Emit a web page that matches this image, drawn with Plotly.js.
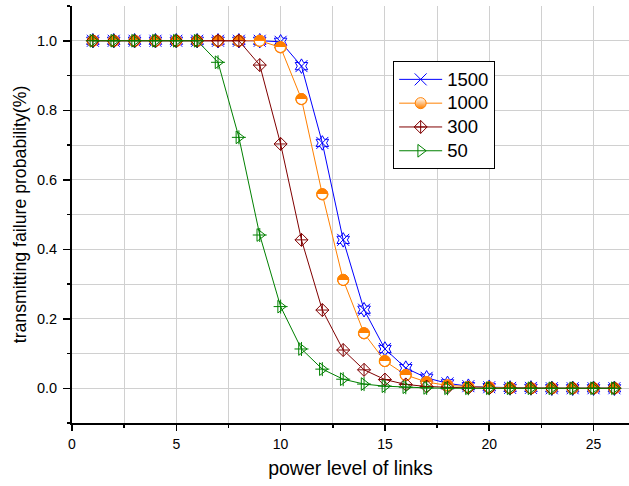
<!DOCTYPE html>
<html>
<head>
<meta charset="utf-8">
<script src="https://cdn.plot.ly/plotly-3.0.1.min.js"></script>
<style>html,body{margin:0;padding:0;background:#fff;}#chart{width:629px;height:486px;}</style>
</head>
<body>
<div id="chart"></div>
<script>
// Data
const powerLevels = [1,2,3,4,5,6,7,8,9,10,11,12,13,14,15,16,17,18,19,20,21,22,23,24,25,26];
const seriesNames = ["1500", "1000", "300", "50"];
const p1500 = [1,1,1,1,1,1,1,1,1,0.997,0.927,0.706,0.427,0.226,0.113,0.058,0.030,0.014,0.006,0.003,0.001,0.001,0,0,0,0];
const p1000 = [1,1,1,1,1,1,1,1,1,0.981,0.832,0.558,0.312,0.158,0.078,0.038,0.018,0.008,0.004,0.002,0.001,0,0,0,0,0];
const p300  = [1,1,1,1,1,1,1,1,0.930,0.703,0.427,0.225,0.110,0.053,0.025,0.011,0.005,0.002,0.001,0,0,0,0,0,0,0];
const p50   = [1,1,1,1,1,1,0.938,0.722,0.441,0.235,0.113,0.055,0.026,0.012,0.006,0.003,0.001,0,0,0,0,0,0,0,0,0];
const xTickVals = [0,5,10,15,20,25];
const yTickVals = [0,0.2,0.4,0.6,0.8,1.0];
const yTickText = ["0.0","0.2","0.4","0.6","0.8","1.0"];

const cBlue = "#0000FF", cOrange = "#FF8000", cRed = "#800000", cGreen = "#008000";
const FONT = "Liberation Sans, Arial, sans-serif";
const legName = s => '<span style="font-size:18.5px">' + s + '</span>';
const halfGlyph = powerLevels.map(() => "\u25D3");

const traces = [
  {x: powerLevels, y: p1500, name: legName(seriesNames[0]), mode: "lines+markers", legendgroup: "a",
   line: {color: cBlue, width: 1},
   marker: {symbol: "x-thin-open", size: 12, color: cBlue, line: {color: cBlue, width: 1}}},
  {x: powerLevels, y: p1500, showlegend: false, mode: "markers", legendgroup: "a", hoverinfo: "skip",
   marker: {symbol: "hexagram-open", size: 11, color: cBlue, line: {color: cBlue, width: 1}}},
  {x: powerLevels, y: p1000, name: legName(seriesNames[1]), mode: "lines+markers", legendgroup: "b",
   line: {color: cOrange, width: 1},
   marker: {symbol: "circle", size: 11, color: "#FFFFFF", line: {color: cOrange, width: 1},
            gradient: {type: "vertical", color: cOrange}}},
  {x: powerLevels, y: p1000, showlegend: false, mode: "markers", legendgroup: "b", hoverinfo: "skip",
   marker: {symbol: "circle", size: 11, color: "#FFFFFF", line: {color: cOrange, width: 1}}},
  {x: powerLevels, y: p1000, showlegend: false, mode: "text", legendgroup: "b", hoverinfo: "skip",
   text: halfGlyph, textposition: "middle center",
   textfont: {family: "DejaVu Sans", size: 15, color: cOrange}},
  {x: powerLevels, y: p300, name: legName(seriesNames[2]), mode: "lines+markers", legendgroup: "c",
   line: {color: cRed, width: 1},
   marker: {symbol: "diamond-cross-open", size: 10, color: cRed, line: {color: cRed, width: 1}}},
  {x: powerLevels, y: p50, name: legName(seriesNames[3]), mode: "lines+markers", legendgroup: "d",
   line: {color: cGreen, width: 1},
   marker: {symbol: "triangle-right-open", size: 11, color: cGreen, line: {color: cGreen, width: 1}}},
  {x: powerLevels, y: p50, showlegend: false, mode: "markers", legendgroup: "d", hoverinfo: "skip",
   marker: {symbol: "cross-thin-open", size: 10, color: cGreen, line: {color: cGreen, width: 1}}}
];

const xRange = [0, 26.70];
const yRange = [-0.1, 1.1];

const layout = {
  width: 629, height: 486,
  margin: {l: 72, r: 0, t: 6, b: 63, pad: 0},
  paper_bgcolor: "#fff", plot_bgcolor: "#fff",
  font: {family: FONT, size: 14, color: "#000"},
  showlegend: true,
  legend: {x: 0.5766, y: 0.867, xanchor: "left", yanchor: "top",
           bgcolor: "#fff", bordercolor: "#000", borderwidth: 1,
           font: {family: FONT, size: 16, color: "#000"},
           itemwidth: 43, tracegroupgap: 0},
  xaxis: {range: xRange, tickvals: xTickVals, ticks: "outside", ticklen: 6, tickwidth: 1.5,
          tickcolor: "#000", showline: true, linecolor: "#000", linewidth: 2,
          showgrid: false, zeroline: false, ticklabelstandoff: 1,
          minor: {dtick: 2.5, tick0: 0, ticks: "outside", ticklen: 3, tickwidth: 1.5, tickcolor: "#000",
                  showgrid: true, gridcolor: "#d0d0d0", gridwidth: 1},
          tickfont: {size: 14},
          title: {text: "power level of links", font: {size: 19.5}, standoff: 11}},
  yaxis: {range: yRange, tickvals: yTickVals, ticktext: yTickText, ticks: "outside", ticklen: 7, tickwidth: 1.5,
          tickcolor: "#000", showline: true, linecolor: "#000", linewidth: 2,
          showgrid: false, zeroline: false, ticklabelstandoff: 3,
          minor: {dtick: 0.1, tick0: 0, ticks: "outside", ticklen: 3.5, tickwidth: 1.5, tickcolor: "#000",
                  showgrid: true, gridcolor: "#d0d0d0", gridwidth: 1},
          tickfont: {size: 14.5},
          title: {text: "transmitting failure probability(%)", font: {size: 17.7}, standoff: 6}},
  xaxis2: {range: xRange, overlaying: "x", side: "top", tickvals: xTickVals, ticks: "inside", ticklen: 7,
           tickwidth: 1.5, tickcolor: "#000", showline: true, linecolor: "#000", linewidth: 2,
           showticklabels: false, showgrid: false, zeroline: false},
  yaxis2: {range: yRange, overlaying: "y", side: "right", tickvals: yTickVals, ticks: "inside", ticklen: 5,
           tickwidth: 1.5, tickcolor: "#000", showline: false,
           showticklabels: false, showgrid: false, zeroline: false}
};

Plotly.newPlot("chart", traces, layout, {displayModeBar: false, staticPlot: true});
</script>
</body>
</html>
